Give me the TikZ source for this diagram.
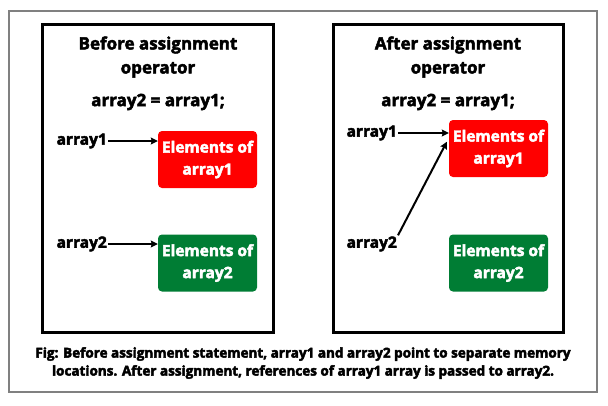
\documentclass[tikz,border=0pt]{standalone}
\usepackage{fontspec}
\setmainfont{Open Sans}
\usetikzlibrary{positioning, arrows.meta, calc}
\definecolor{cR}{RGB}{255,0,0}
\definecolor{cG}{RGB}{0,125,52}
\definecolor{cF}{RGB}{128,128,128}
\newcommand{\heavytext}{\special{pdf:literal direct 2 Tr 0.45 w}}

\begin{document}
\begin{tikzpicture}[x=1pt, y=-1pt, >={Stealth[length=7pt, width=7pt, inset=1pt]},
    panel/.style={draw=black, line width=3pt},
    title/.style={align=center, font=\bfseries\fontsize{17}{24}\selectfont\heavytext},
    lbl/.style={font=\bfseries\fontsize{15.5}{16}\selectfont\heavytext, inner sep=1pt},
    mem/.style={rectangle, rounded corners=4pt, minimum width=99pt, minimum height=57pt, text=white, align=center, inner sep=0pt, font=\bfseries\fontsize{15.5}{22}\selectfont\heavytext},
    ptr/.style={->, line width=2pt}]
    \useasboundingbox (0,0) rectangle (608,405);
    % Frame
    \draw[cF, line width=2pt] (9,11) rectangle (597,392);
    \draw[panel] (42,24) rectangle (273,332);
    \draw[panel] (333,24) rectangle (563,332);

    % Before
    \node[title] (tL) at (158,57) {Before assignment\\operator};
    \node[title] (sL) at (158,102) {array2 = array1;};
    \node[mem, fill=cR] (m1L) at (207.5,159.5) {Elements of\\array1};
    \node[mem, fill=cG] (m2L) at (207.5,263) {Elements of\\array2};
    \node[lbl, anchor=east] (a1L) at (108,141) {array1};
    \node[lbl, anchor=east] (a2L) at (108,244) {array2};
    \draw[ptr] (a1L.east) -- (a1L.east -| m1L.west);
    \draw[ptr] (a2L.east) -- (a2L.east -| m2L.west);

    % After
    \node[title] (tR) at (448,57) {After assignment\\operator};
    \node[title] (sR) at (448,102) {array2 = array1;};
    \node[mem, fill=cR] (m1R) at (498.5,148.5) {Elements of\\array1};
    \node[mem, fill=cG] (m2R) at (498.5,263) {Elements of\\array2};
    \node[lbl, anchor=east] (a1R) at (398,133) {array1};
    \node[lbl, anchor=east] (a2R) at (398,244) {array2};
    \draw[ptr] (a1R.east) -- (a1R.east -| m1R.west);
    \draw[ptr] (a2R.north east) -- ($(m1R.north west)+(-2,22)$);

    % Caption
    \node[align=center, font=\bfseries\fontsize{13.5}{18}\selectfont\heavytext] (cap) at (303,363)
        {Fig: Before assignment statement, array1 and array2 point to separate memory\\locations. After assignment, references of array1 array is passed to array2.};
\end{tikzpicture}
\end{document}
